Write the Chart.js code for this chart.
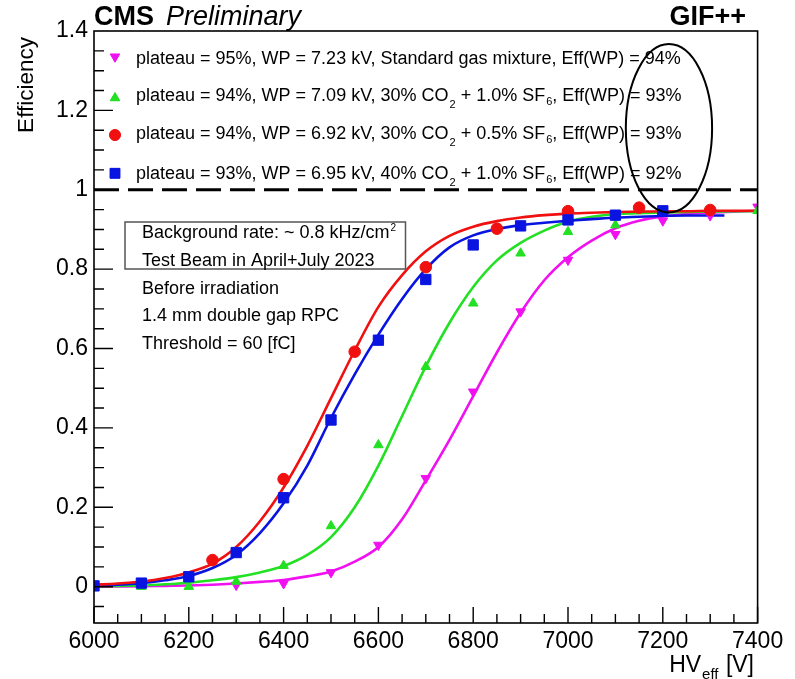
<!DOCTYPE html>
<html><head><meta charset="utf-8">
<script src="https://cdn.jsdelivr.net/npm/chart.js@4.4.1/dist/chart.umd.min.js"></script>
<style>html,body{margin:0;padding:0;background:#fff}#wrap{width:795px;height:679px}</style>
</head><body><div id="wrap"><canvas id="c" width="795" height="679"></canvas></div>
<script>
// ---------------- data ----------------
const xTickLabels = [6000, 6200, 6400, 6600, 6800, 7000, 7200, 7400];
const yTickLabels = [0, 0.2, 0.4, 0.6, 0.8, 1, 1.2, 1.4];

// measured points
const hvStandard  = [6300, 6400, 6500, 6600, 6700, 6800, 6900, 7000, 7100, 7200, 7300, 7400];
const effStandard = [0.004, 0.008, 0.036, 0.105, 0.273, 0.491, 0.693, 0.823, 0.888, 0.922, 0.935, 0.957];

const hvCO30SF10  = [6100, 6200, 6300, 6400, 6500, 6600, 6700, 6800, 6900, 7000, 7100, 7400];
const effCO30SF10 = [0.0, 0.0, 0.013, 0.053, 0.153, 0.357, 0.554, 0.714, 0.840, 0.894, 0.911, 0.947];

const hvCO30SF05  = [6250, 6400, 6550, 6700, 6850, 7000, 7150, 7300];
const effCO30SF05 = [0.067, 0.271, 0.592, 0.805, 0.902, 0.946, 0.955, 0.949];

const hvCO40SF10  = [6000, 6100, 6200, 6300, 6400, 6500, 6600, 6700, 6800, 6900, 7000, 7100, 7200];
const effCO40SF10 = [0.002, 0.009, 0.025, 0.086, 0.224, 0.420, 0.621, 0.774, 0.861, 0.909, 0.924, 0.936, 0.947];

// fitted curves
const fitHV = [6000, 6050, 6100, 6150, 6200, 6250, 6300, 6350, 6400, 6450, 6500, 6550, 6600, 6650, 6700,
               6750, 6800, 6850, 6900, 6950, 7000, 7050, 7100, 7150, 7200, 7250, 7300, 7350, 7400];
const fitStandard = [0.0, 0.0005, 0.001, 0.002, 0.003, 0.005, 0.008, 0.012, 0.017, 0.026, 0.038, 0.063, 0.10, 0.17, 0.268,
                     0.37, 0.48, 0.59, 0.69, 0.772, 0.83, 0.872, 0.903, 0.922, 0.933, 0.939, 0.943, 0.945, 0.947];
const fitCO30SF10 = [0.001, 0.002, 0.003, 0.006, 0.010, 0.016, 0.024, 0.036, 0.052, 0.08, 0.125, 0.20, 0.305, 0.43, 0.555,
                     0.665, 0.755, 0.822, 0.866, 0.897, 0.92, 0.932, 0.939, 0.941, 0.943, 0.944, 0.945, 0.946, 0.946];
const fitCO30SF05 = [0.005, 0.008, 0.013, 0.022, 0.036, 0.058, 0.10, 0.165, 0.25, 0.355, 0.475, 0.595, 0.705, 0.785, 0.845,
                     0.884, 0.907, 0.921, 0.93, 0.936, 0.94, 0.942, 0.944, 0.945, 0.946, 0.946, 0.947, 0.947, 0.947];
const fitHVBlue   = [6000, 6050, 6100, 6150, 6200, 6250, 6300, 6350, 6400, 6450, 6500, 6550, 6600, 6650, 6700,
                     6750, 6800, 6850, 6900, 6950, 7000, 7050, 7100, 7150, 7200, 7250, 7300, 7330];
const fitCO40SF10 = [0.003, 0.005, 0.009, 0.016, 0.027, 0.047, 0.08, 0.135, 0.21, 0.305, 0.425, 0.535, 0.635, 0.725, 0.80,
                     0.855, 0.885, 0.901, 0.911, 0.917, 0.922, 0.926, 0.93, 0.932, 0.934, 0.935, 0.935, 0.935];

// annotation: ellipse around Eff(WP) column (data units)
const ellipseHV = 7213, ellipseEff = 1.155, ellipseHalfHV = 91, ellipseHalfEff = 0.212;

const legendRows = [
  [{t: 'plateau = 95%, WP = 7.23 kV, Standard gas mixture, Eff(WP) = 94%'}],
  [{t: 'plateau = 94%, WP = 7.09 kV, 30% CO'}, {t: '2', sub: 7}, {t: ' + 1.0% SF'}, {t: '6', sub: 4}, {t: ', Eff(WP) = 93%'}],
  [{t: 'plateau = 94%, WP = 6.92 kV, 30% CO'}, {t: '2', sub: 7}, {t: ' + 0.5% SF'}, {t: '6', sub: 4}, {t: ', Eff(WP) = 93%'}],
  [{t: 'plateau = 93%, WP = 6.95 kV, 40% CO'}, {t: '2', sub: 7}, {t: ' + 1.0% SF'}, {t: '6', sub: 4}, {t: ', Eff(WP) = 92%'}]
];
const infoLines = ['Test Beam in April+July 2023', 'Before irradiation', '1.4 mm double gap RPC', 'Threshold = 60 [fC]'];

// ---------------- colours / styles ----------------
const MAG = '#f010f0', GRN = '#22e022', RED = '#f01010', BLU = '#0a14e0';
const FONT = '"Liberation Sans", Arial, Helvetica, sans-serif';

const pts = (xs, ys) => xs.map((v, i) => ({x: v, y: ys[i]}));

function fitDs(xs, ys, color, order) {
  return {type: 'line', data: pts(xs, ys), borderColor: color, borderWidth: 2.6, pointRadius: 0,
          fill: false, showLine: true, cubicInterpolationMode: 'monotone', order};
}
function markDs(xs, ys, color, style, r, rot, order) {
  return {type: 'scatter', data: pts(xs, ys), showLine: false, pointStyle: style, pointRadius: r,
          pointRotation: rot, backgroundColor: color, borderColor: color, borderWidth: 1, order};
}

function drawRich(ctx, parts, x, y, size, subSize) {
  let cx = x;
  for (const p of parts) {
    if (p.sub) {
      ctx.font = subSize + 'px ' + FONT;
      ctx.fillText(p.t, cx + 1, y + p.sub);
      cx += ctx.measureText(p.t).width + 1;
    } else {
      ctx.font = size + 'px ' + FONT;
      ctx.fillText(p.t, cx, y);
      cx += ctx.measureText(p.t).width;
    }
  }
  return cx - x;
}

const deco = {
  id: 'deco',
  afterDraw(chart) {
    const {ctx, chartArea: a, scales: {x, y}} = chart;
    ctx.save();
    ctx.strokeStyle = '#000';
    ctx.fillStyle = '#000';
    // frame
    ctx.lineWidth = 1.6;
    ctx.strokeRect(a.left, a.top, a.right - a.left, a.bottom - a.top);
    // x ticks (inward)
    ctx.lineWidth = 1.4;
    ctx.beginPath();
    for (let v = 6000; v <= 7400; v += 50) {
      const px = x.getPixelForValue(v);
      const len = (v % 200 === 0) ? 16 : 9;
      ctx.moveTo(px, a.bottom); ctx.lineTo(px, a.bottom - len);
    }
    // y ticks (inward)
    for (let k = -1; k <= 28; k++) {
      const v = k * 0.05;
      const py = y.getPixelForValue(v);
      if (py > a.bottom || py < a.top) continue;
      const len = (k % 4 === 0) ? 19 : 10;
      ctx.moveTo(a.left, py); ctx.lineTo(a.left + len, py);
    }
    ctx.stroke();

    // dashed line at efficiency 1
    const y1 = y.getPixelForValue(1);
    ctx.lineWidth = 3;
    ctx.setLineDash([25, 9]);
    ctx.beginPath(); ctx.moveTo(a.left, y1); ctx.lineTo(a.right, y1); ctx.stroke();
    ctx.setLineDash([]);

    // legend
    const legendMarkers = [
      {c: MAG, s: 'triangle', r: 5.5, rot: 180, y: 56.7},
      {c: GRN, s: 'triangle', r: 5.5, rot: 0, y: 98},
      {c: RED, s: 'circle', r: 5.5, rot: 0, y: 135},
      {c: BLU, s: 'rect', r: 7, rot: 0, y: 173.3}
    ];
    const baselines = [63.5, 100.5, 139, 179];
    legendMarkers.forEach((m, i) => {
      ctx.fillStyle = m.c; ctx.strokeStyle = m.c; ctx.lineWidth = 1;
      Chart.helpers.drawPoint(ctx, {pointStyle: m.s, radius: m.r, rotation: m.rot, borderWidth: 1}, 115, m.y);
      ctx.fill();
    });
    ctx.fillStyle = '#000';
    ctx.textBaseline = 'alphabetic';
    ctx.textAlign = 'left';
    legendRows.forEach((row, i) => drawRich(ctx, row, 136, baselines[i], 18, 11));

    // info box
    ctx.strokeStyle = '#555'; ctx.lineWidth = 1.5;
    ctx.strokeRect(125, 222, 280.5, 47);
    ctx.fillStyle = '#000';
    ctx.font = '18px ' + FONT;
    const bg = 'Background rate: ~ 0.8 kHz/cm';
    ctx.fillText(bg, 142, 238);
    const w = ctx.measureText(bg).width;
    ctx.font = '10px ' + FONT;
    ctx.fillText('2', 142 + w + 1, 231);
    ctx.font = '18px ' + FONT;
    const infoBase = [265.5, 293.5, 321, 348.5];
    infoLines.forEach((t, i) => ctx.fillText(t, 142, infoBase[i]));

    // ellipse
    const cx = x.getPixelForValue(ellipseHV), cy = y.getPixelForValue(ellipseEff);
    const rx = x.getPixelForValue(ellipseHV + ellipseHalfHV) - cx;
    const ry = cy - y.getPixelForValue(ellipseEff + ellipseHalfEff);
    ctx.strokeStyle = '#000'; ctx.lineWidth = 2;
    ctx.beginPath(); ctx.ellipse(cx, cy, rx, ry, 0, 0, Math.PI * 2); ctx.stroke();

    // titles
    ctx.fillStyle = '#000';
    ctx.font = 'bold 27px ' + FONT;
    ctx.fillText('CMS', 94, 25);
    const cmsW = ctx.measureText('CMS').width;
    ctx.font = 'italic 27px ' + FONT;
    ctx.fillText('Preliminary', 94 + cmsW + 12, 25);
    ctx.font = 'bold 27px ' + FONT;
    ctx.textAlign = 'right';
    ctx.fillText('GIF++', 746, 25);

    // x-axis title HV_eff [V]
    ctx.textAlign = 'left';
    ctx.font = '23px ' + FONT;
    const wHV = ctx.measureText('HV').width;
    const wV = ctx.measureText(' [V]').width;
    ctx.font = '15px ' + FONT;
    const wE = ctx.measureText('eff').width;
    const startX = 754 - (wHV + wE + 2 + wV);
    ctx.font = '23px ' + FONT;
    ctx.fillText('HV', startX, 672);
    ctx.font = '15px ' + FONT;
    ctx.fillText('eff', startX + wHV + 1, 679);
    ctx.font = '23px ' + FONT;
    ctx.fillText(' [V]', startX + wHV + wE + 2, 672);

    // y-axis title
    ctx.save();
    ctx.translate(27, 37);
    ctx.rotate(-Math.PI / 2);
    ctx.textAlign = 'right';
    ctx.textBaseline = 'middle';
    ctx.font = '22.5px ' + FONT;
    ctx.fillText('Efficiency', 0, 0);
    ctx.restore();

    ctx.restore();
  }
};

const tickFont = {family: FONT, size: 23};

new Chart(document.getElementById('c'), {
  type: 'scatter',
  data: {
    datasets: [
      markDs(hvCO40SF10, effCO40SF10, BLU, 'rect', 7.3, 0, 1),
      markDs(hvCO30SF05, effCO30SF05, RED, 'circle', 5.8, 0, 2),
      markDs(hvCO30SF10, effCO30SF10, GRN, 'triangle', 5.5, 0, 3),
      markDs(hvStandard, effStandard, MAG, 'triangle', 5.5, 180, 4),
      fitDs(fitHV, fitCO30SF05, RED, 5),
      fitDs(fitHVBlue, fitCO40SF10, BLU, 6),
      fitDs(fitHV, fitCO30SF10, GRN, 7),
      fitDs(fitHV, fitStandard, MAG, 8)
    ]
  },
  options: {
    responsive: false, animation: false, devicePixelRatio: 1,
    layout: {padding: {left: 0, top: 31, right: 37.4, bottom: 0}},
    plugins: {legend: {display: false}, tooltip: {enabled: false}, title: {display: false}},
    scales: {
      x: {
        type: 'linear', min: 6000, max: 7400,
        grid: {display: false, drawTicks: false}, border: {display: false},
        ticks: {font: tickFont, color: '#000', padding: 5, maxRotation: 0, autoSkip: false,
                callback: v => String(v)},
        afterBuildTicks: s => { s.ticks = xTickLabels.map(v => ({value: v})); },
        afterFit: s => { s.height = 56; }
      },
      y: {
        type: 'linear', min: -0.0915, max: 1.4,
        grid: {display: false, drawTicks: false}, border: {display: false},
        ticks: {font: tickFont, color: '#000', padding: 6, autoSkip: false,
                callback: v => (v === 0 ? '0' : (Math.abs(v - 1) < 1e-9 ? '1' : v.toFixed(1)))},
        afterBuildTicks: s => { s.ticks = yTickLabels.map(v => ({value: v})); },
        afterFit: s => { s.width = 94; }
      }
    }
  },
  plugins: [deco]
});
</script>
</body></html>
